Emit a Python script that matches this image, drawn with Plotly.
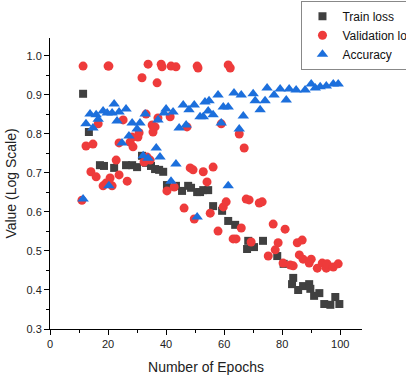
import plotly.graph_objects as go

train_x = [11.4, 13.4, 17.2, 18.6, 22.1, 26.2, 28.3, 30.0, 31.7, 33.1, 34.8, 36.2, 37.6, 39.0,
           40.3, 43.4, 45.5, 47.6, 48.6, 50.7, 51.7, 52.8, 54.5, 56.2, 59.3, 61.4, 63.8,
           68.3, 67.9, 70.3, 73.4, 78.3, 80.5, 83.8, 83.4, 85.5, 87.2, 89.3, 89.7, 91.0,
           92.8, 94.5, 96.6, 98.3, 99.7]
train_y = [0.903, 0.805, 0.720, 0.718, 0.713, 0.720, 0.720, 0.715, 0.744, 0.726, 0.718, 0.710, 0.708, 0.703,
           0.669, 0.667, 0.654, 0.667, 0.662, 0.651, 0.651, 0.656, 0.656, 0.615, 0.603, 0.577, 0.567,
           0.526, 0.505, 0.510, 0.526, 0.487, 0.467, 0.431, 0.415, 0.400, 0.410, 0.415, 0.403, 0.385,
           0.392, 0.364, 0.362, 0.382, 0.364]

val_x = [11.0, 11.4, 12.4, 14.1, 14.8, 15.9, 16.6, 18.3, 19.3, 20.0, 20.3, 20.7, 21.4, 22.8, 23.8,
         23.8, 25.2, 26.6, 27.6, 28.6, 28.3, 30.3, 30.7, 31.7, 32.4, 33.1, 33.8, 33.4, 34.5,
         35.2, 35.5, 36.2, 36.9, 37.2, 38.3, 38.6, 40.3, 41.4, 41.7, 42.8, 43.4, 46.2, 47.2,
         48.3, 49.3, 49.7, 50.7, 51.0, 52.8, 54.1, 55.2, 56.2, 57.9, 59.0, 59.7, 60.7, 61.4,
         62.1, 63.1, 64.1, 65.2, 65.9, 66.9, 67.6, 68.6, 69.3, 72.1, 73.1, 75.2, 76.9, 77.6,
         78.6, 80.3, 81.0, 82.8, 83.8, 85.2, 86.9, 85.9, 87.2, 90.0, 89.3, 92.1, 93.8, 95.2,
         95.5, 97.6, 99.3]
val_y = [0.630, 0.974, 0.769, 0.703, 0.774, 0.690, 0.826, 0.667, 0.674, 0.974, 0.974, 0.687, 0.667, 0.733, 0.695,
         0.777, 0.836, 0.679, 0.779, 0.767, 0.792, 0.792, 0.803, 0.944, 0.728, 0.851, 0.979, 0.741, 0.733,
         0.823, 0.805, 0.818, 0.931, 0.841, 0.979, 0.972, 0.654, 0.844, 0.974, 0.664, 0.972, 0.610, 0.818,
         0.713, 0.708, 0.582, 0.974, 0.969, 0.703, 0.677, 0.597, 0.715, 0.551, 0.826, 0.613, 0.626, 0.977,
         0.969, 0.531, 0.531, 0.800, 0.559, 0.764, 0.633, 0.631, 0.523, 0.623, 0.626, 0.487, 0.569, 0.503,
         0.521, 0.469, 0.556, 0.464, 0.462, 0.521, 0.528, 0.490, 0.479, 0.479, 0.469, 0.456, 0.469, 0.456,
         0.467, 0.459, 0.467]

acc_x = [11.4, 12.4, 13.8, 14.8, 15.9, 16.6, 18.3, 19.7, 20.3, 21.4, 22.1, 23.1, 23.8, 24.8, 26.2,
         27.2, 28.3, 30.0, 31.0, 32.1, 32.8, 33.8, 36.6, 37.2, 37.9, 39.3, 40.0, 41.7, 42.4, 43.4,
         44.5, 45.9, 46.9, 47.9, 49.7, 50.7, 51.7, 52.8, 53.4, 54.8, 54.5, 56.2, 57.9, 59.0, 59.7,
         61.4, 61.4, 63.4, 65.2, 65.9, 66.6, 70.0, 70.7, 72.4, 74.1, 74.8, 77.2, 79.3, 81.4, 82.4,
         84.8, 87.9, 90.0, 91.4, 93.1, 95.2, 97.6, 99.3]
acc_y = [0.633, 0.826, 0.851, 0.815, 0.849, 0.838, 0.859, 0.854, 0.667, 0.854, 0.877, 0.833, 0.856, 0.777, 0.864,
         0.795, 0.828, 0.813, 0.828, 0.744, 0.851, 0.738, 0.764, 0.836, 0.741, 0.854, 0.864, 0.679, 0.856, 0.723,
         0.815, 0.874, 0.823, 0.862, 0.874, 0.587, 0.844, 0.844, 0.882, 0.885, 0.859, 0.849, 0.900, 0.828, 0.869,
         0.869, 0.667, 0.905, 0.813, 0.900, 0.846, 0.903, 0.885, 0.862, 0.885, 0.918, 0.900, 0.915, 0.887, 0.915,
         0.913, 0.913, 0.928, 0.918, 0.921, 0.923, 0.928, 0.928]

y_ticks = [0.3, 0.4, 0.5, 0.6, 0.7, 0.8, 0.9, 1.0]
x_ticks = [0, 20, 40, 60, 80, 100]

fig = go.Figure()
fig.add_trace(go.Scatter(x=train_x, y=train_y, mode="markers", name="Train loss",
                         marker=dict(symbol="square", size=8, color="#404040")))
fig.add_trace(go.Scatter(x=val_x, y=val_y, mode="markers", name="Validation loss",
                         marker=dict(symbol="circle", size=9, color="#ee3b3b")))
fig.add_trace(go.Scatter(x=acc_x, y=acc_y, mode="markers", name="Accuracy",
                         marker=dict(symbol="triangle-up", size=10, color="#1c6fdc")))

font = "Liberation Sans, Arial, sans-serif"
fig.update_layout(
    width=406, height=378,
    margin=dict(l=50, r=44, t=38, b=49, autoexpand=False),
    plot_bgcolor="white", paper_bgcolor="white",
    font=dict(family=font, size=11, color="#222"),
    showlegend=True,
    legend=dict(x=0.806, y=1.128, xanchor="left", yanchor="top",
                bordercolor="#888", borderwidth=1, bgcolor="white", itemwidth=30,
                font=dict(size=12, color="#111"), tracegroupgap=0),
    xaxis=dict(range=[0, 107.5], tickvals=x_ticks, showline=True, linecolor="black",
               linewidth=1, ticks="outside", ticklen=5, tickcolor="black", showgrid=False,
               zeroline=False, tickfont=dict(size=11, color="#222"),
               minor=dict(dtick=10, tick0=0, ticks="outside", ticklen=3, tickcolor="black", showgrid=False),
               title=dict(text="Number of Epochs", font=dict(size=14, color="#222"), standoff=12)),
    yaxis=dict(range=[0.3, 1.046], tickvals=y_ticks, tickformat=".1f", showline=True,
               linecolor="black", linewidth=1, ticks="outside", ticklen=5, tickcolor="black",
               showgrid=False, zeroline=False, tickfont=dict(size=11, color="#222"),
               minor=dict(dtick=0.05, tick0=0.3, ticks="outside", ticklen=3, tickcolor="black", showgrid=False),
               title=dict(text="Value (Log Scale)", font=dict(size=14, color="#222"), standoff=6)),
)

fig.write_html("out.html", config={"displayModeBar": False},
               post_script="document.body.style.margin='0px';document.body.style.overflow='hidden';")
